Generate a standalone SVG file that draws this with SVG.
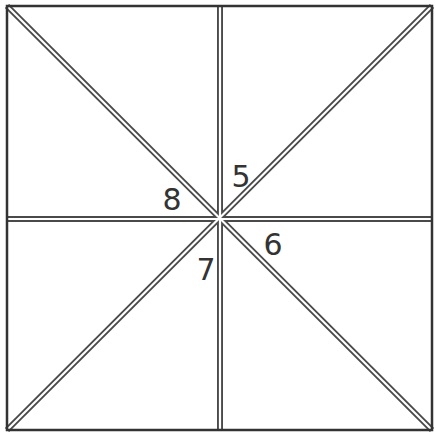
<svg xmlns="http://www.w3.org/2000/svg" width="436" height="435" viewBox="0 0 436 435">
<style>
.o{stroke:#4a4a4a;stroke-width:6;fill:none}
.i{stroke:#fff;stroke-width:2.2;fill:none}
.lbl{font-family:"DejaVu Sans","Liberation Sans",sans-serif;font-size:30px;fill:#333}
</style>
<rect width="436" height="435" fill="#fff"/>
<g id="connectors">
<g class="o">
<line x1="7" y1="6" x2="432" y2="430"/>
<line x1="432" y1="6" x2="7" y2="430"/>
<line x1="220" y1="6" x2="220" y2="430"/>
<line x1="7" y1="219" x2="432" y2="219"/>
</g>
<g class="i">
<line x1="7" y1="6" x2="432" y2="430"/>
<line x1="432" y1="6" x2="7" y2="430"/>
<line x1="220" y1="6" x2="220" y2="430"/>
<line x1="7" y1="219" x2="432" y2="219"/>
</g>
</g>
<g id="frame">
<rect x="7" y="6" width="425" height="424" fill="none" stroke="#333" stroke-width="2.5"/>
</g>
<g id="label5"><text class="lbl" x="241" y="187" text-anchor="middle">5</text></g>
<g id="label6"><text class="lbl" x="273" y="255" text-anchor="middle">6</text></g>
<g id="label7"><text class="lbl" x="206" y="280" text-anchor="middle">7</text></g>
<g id="label8"><text class="lbl" x="172" y="210" text-anchor="middle">8</text></g>
</svg>
